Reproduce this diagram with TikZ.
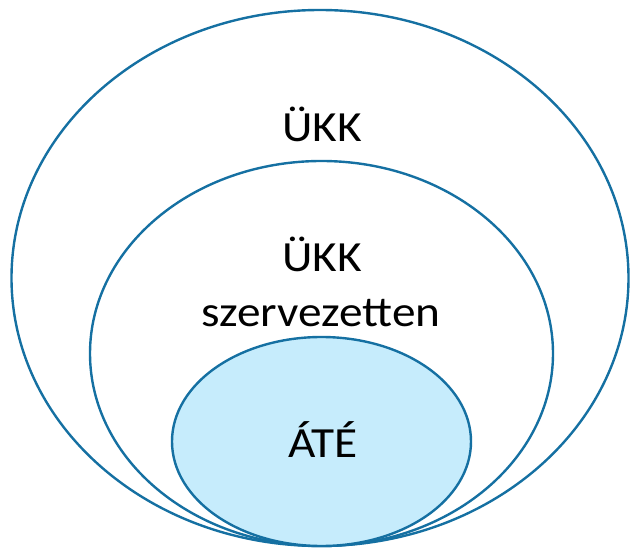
\documentclass[tikz,border=0pt]{standalone}
\usepackage{fontspec}
\setmainfont{Carlito}[FakeStretch=1.1]
\definecolor{ringblue}{RGB}{21,112,162}
\definecolor{coreblue}{RGB}{198,236,252}

\begin{document}
\begin{tikzpicture}[x=1pt, y=-1pt,
		ring/.style={draw=ringblue, line width=2.4pt},
		lbl/.style={font=\fontsize{43}{55}\selectfont, anchor=base, inner sep=0pt}]
		\useasboundingbox (0,0) rectangle (630,548);
		\draw [ring] (320,278) ellipse [x radius=308.5, y radius=268];
		\draw [ring] (321.5,353.5) ellipse [x radius=231.5, y radius=192.5];
		\draw [ring, fill=coreblue] (321.5,441.5) ellipse [x radius=149.5, y radius=104.5];
		\node[lbl] (ukk) at (322,142) {ÜKK};
		\node[lbl] (ukkorg) at (322,272) {ÜKK};
		\node[lbl] (szerv) at (321,327) {szervezetten};
		\node[lbl] (ate) at (323,457) {ÁTÉ};
	\end{tikzpicture}
\end{document}
